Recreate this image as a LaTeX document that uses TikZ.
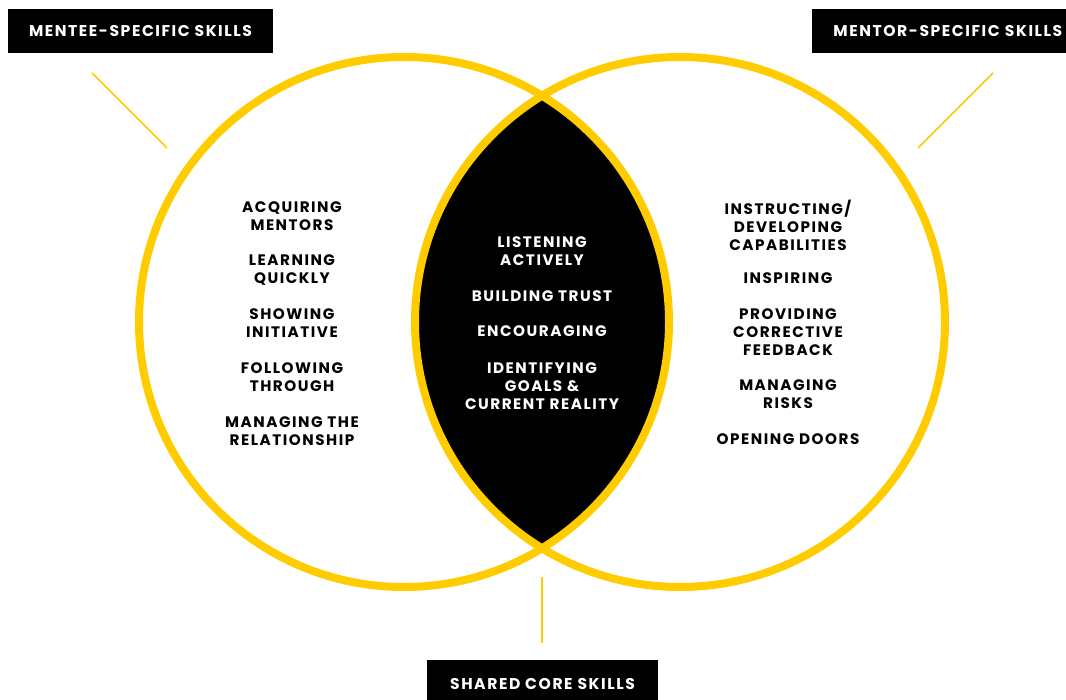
\documentclass[tikz,border=0pt]{standalone}
\usepackage{fontspec}
\setmainfont{Poppins}[LetterSpace=10]
\definecolor{skillyellow}{HTML}{FFCC00}
\tikzset{
	skill/.style={align=center,font=\bfseries\fontsize{7.6}{9}\selectfont,inner sep=0pt},
	title/.style={fill=black,text=white,font=\bfseries\fontsize{7.8}{9}\selectfont,minimum height=22pt,inner sep=0pt},
	ring/.style={draw=skillyellow,line width=4pt},
	pointer/.style={draw=skillyellow,line width=0.8pt}
}
\begin{document}
\begin{tikzpicture}[x=0.5pt,y=-0.5pt]
		\useasboundingbox (0,0) rectangle (1066,700);
		\fill[white] (0,0) rectangle (1066,700);
		% shared part
		\begin{scope}
		\clip (404,322) circle [radius=265];
		\fill[black] (680,322) circle [radius=265];
		\end{scope}
		\draw[ring] (404,322) circle [radius=265];
		\draw[ring] (680,322) circle [radius=265];
		% titles
		\node[title,minimum width=132.5pt] (mentee) at (140.5,31) {MENTEE-SPECIFIC SKILLS};
		\node[title,text width=130pt,align=left,anchor=west] (mentor) at (812,31) {\hspace{10.5pt}MENTOR-SPECIFIC SKILLS};
		\node[title,minimum width=115.5pt,minimum height=24pt] (shared) at (542.5,684) {SHARED CORE SKILLS};
		% pointers
		\coordinate (menteeA) at (92,73);
		\coordinate (menteeB) at (167,148);
		\coordinate (mentorA) at (993,73);
		\coordinate (mentorB) at (918,148);
		\coordinate (sharedA) at (542,577);
		\coordinate (sharedB) at (542,643);
		\draw[pointer] (menteeA)--(menteeB);
		\draw[pointer] (mentorA)--(mentorB);
		\draw[pointer] (sharedA)--(sharedB);
		% mentee skills
		\node[skill] (acquiring) at (292,216) {ACQUIRING\\MENTORS};
		\node[skill] (learning) at (292,270) {LEARNING\\QUICKLY};
		\node[skill] (showing) at (292,323) {SHOWING\\INITIATIVE};
		\node[skill] (following) at (292,377) {FOLLOWING\\THROUGH};
		\node[skill] (managingrel) at (292,431) {MANAGING THE\\RELATIONSHIP};
		% core skills
		\node[skill,text=white] (listening) at (542,251) {LISTENING\\ACTIVELY};
		\node[skill,text=white] (trust) at (542,296) {BUILDING TRUST};
		\node[skill,text=white] (encouraging) at (542,331) {ENCOURAGING};
		\node[skill,text=white] (goals) at (542,386) {IDENTIFYING\\GOALS \&\\CURRENT REALITY};
		% mentor skills
		\node[skill] (instructing) at (788,225) {INSTRUCTING/\\DEVELOPING\\CAPABILITIES};
		\node[skill] (inspiring) at (788,278) {INSPIRING};
		\node[skill] (providing) at (788,332) {PROVIDING\\CORRECTIVE\\FEEDBACK};
		\node[skill] (risks) at (788,394) {MANAGING\\RISKS};
		\node[skill] (doors) at (788,439) {OPENING DOORS};
\end{tikzpicture}
\end{document}
